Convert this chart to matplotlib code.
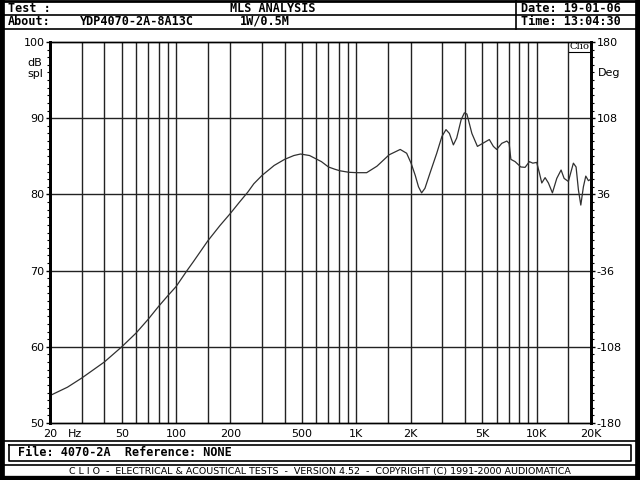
import matplotlib
matplotlib.use('Agg')
import matplotlib.pyplot as plt
from matplotlib.ticker import FixedLocator, NullFormatter, MultipleLocator

plt.rcParams['axes.unicode_minus'] = False

# frequency response (Hz, dB spl)
freq = [20, 25, 30, 40, 50, 60, 70, 80, 90, 100, 115, 125, 150, 175, 200, 225, 250,
        270, 300, 330, 350, 400, 450, 490, 550, 640, 700, 760, 810, 910, 1010, 1140,
        1300, 1520, 1750, 1900, 2010, 2120, 2210, 2300, 2400, 2560, 2790, 2980, 3140,
        3280, 3450, 3600, 3810, 3970, 4100, 4370, 4690, 5020, 5460, 5750, 6000, 6400,
        6830, 7030, 7190, 7590, 8160, 8620, 9110, 9510, 10000, 10350, 10670, 11130,
        11610, 12220, 12920, 13650, 14190, 14980, 15970, 16530, 17030, 17560, 18150,
        18710, 19350, 20000]
spl = [53.6, 54.7, 55.9, 58.0, 60.0, 61.8, 63.6, 65.3, 66.7, 67.9, 70.0, 71.2, 73.9,
       75.9, 77.5, 79.0, 80.3, 81.4, 82.5, 83.3, 83.8, 84.6, 85.1, 85.3, 85.1, 84.3,
       83.6, 83.3, 83.1, 82.9, 82.85, 82.85, 83.7, 85.2, 85.9, 85.4, 84.1, 82.5, 81.0,
       80.2, 80.8, 82.8, 85.4, 87.6, 88.5, 88.0, 86.5, 87.4, 89.8, 90.7, 90.55, 88.0,
       86.3, 86.7, 87.2, 86.3, 85.9, 86.7, 87.0, 86.7, 84.6, 84.3, 83.6, 83.55, 84.3,
       84.1, 84.2, 82.8, 81.5, 82.2, 81.5, 80.2, 82.1, 83.2, 82.1, 81.7, 84.1, 83.6,
       80.6, 78.6, 81.0, 82.4, 81.8, 82.0]

grid_freqs = [30, 40, 50, 60, 70, 80, 90, 100, 150, 200, 300, 400, 500, 600, 700,
              800, 900, 1000, 1500, 2000, 3000, 4000, 5000, 6000, 7000, 8000, 9000,
              10000, 15000]
x_ticks = [20, 50, 100, 200, 500, 1000, 2000, 5000, 10000, 20000]
x_labels = ['20', '50', '100', '200', '500', '1K', '2K', '5K', '10K', '20K']
db_ticks = [50, 60, 70, 80, 90, 100]
deg_ticks = [-180, -108, -36, 36, 108, 180]

W, H = 640, 480
fig = plt.figure(figsize=(6.4, 4.8), dpi=100)
fig.patch.set_facecolor('white')

# main plot axes, placed in pixels
L, R, T, B = 50, 591, 42, 423
ax = fig.add_axes([L / W, 1 - B / H, (R - L) / W, (B - T) / H])
ax.set_xscale('log')
ax.set_xlim(20, 20000)
ax.set_ylim(50, 100)

for f in grid_freqs:
    ax.axvline(f, color='#222222', lw=1.0, zorder=1)
for d in db_ticks[1:-1]:
    ax.axhline(d, color='#222222', lw=1.0, zorder=1)

ax.plot(freq, spl, color='#303030', lw=0.9, zorder=3)

ax.xaxis.set_major_locator(FixedLocator(x_ticks))
ax.set_xticklabels(x_labels)
ax.xaxis.set_minor_formatter(NullFormatter())
ax.tick_params(axis='x', which='both', length=0, pad=4, labelsize=8)
ax.text(27.5, -0.0145, 'Hz', transform=ax.get_xaxis_transform(), ha='center',
        va='top', fontsize=8)

ax.set_yticks(db_ticks)
ax.yaxis.set_minor_locator(MultipleLocator(1))
ax.tick_params(axis='y', which='major', length=3, width=1, pad=1, labelsize=8)
ax.tick_params(axis='y', which='minor', length=2, width=0.8)

ax2 = ax.twinx()
ax2.set_ylim(-180, 180)
ax2.set_yticks(deg_ticks)
ax2.yaxis.set_minor_locator(MultipleLocator(7.2))
ax2.tick_params(axis='y', which='major', length=3, width=1, pad=1, labelsize=8)
ax2.tick_params(axis='y', which='minor', length=2, width=0.8)

for a in (ax, ax2):
    for s in a.spines.values():
        s.set_linewidth(1.0)
    a.spines['left'].set_linewidth(2.0)
    a.spines['right'].set_linewidth(2.0)

# overlay in pixel coordinates for the frame and header/footer text
ov = fig.add_axes([0, 0, 1, 1], zorder=5)
ov.set_xlim(0, W)
ov.set_ylim(H, 0)
ov.axis('off')

k = dict(color='black', lw=1.2)
ov.plot([0, 0], [0, H], color='black', lw=7)
ov.plot([W, W], [0, H], color='black', lw=7)
ov.plot([0, W], [0.5, 0.5], color='black', lw=2)
ov.plot([0, W], [H, H], color='black', lw=6)
ov.plot([0, W], [14.5, 14.5], **k)
ov.plot([0, W], [28.5, 28.5], **k)
ov.plot([516, 516], [0, 28.5], **k)
ov.plot([0, W], [441, 441], **k)
ov.plot([9, 631, 631, 9, 9], [445, 445, 461, 461, 445], **k)
ov.plot([0, W], [464.5, 464.5], **k)

mono = dict(family='DejaVu Sans Mono', fontweight='bold', fontsize=8.5, va='center')
ov.text(8, 8, 'Test :', **mono)
ov.text(273, 8, 'MLS ANALYSIS', ha='center', **mono)
ov.text(521, 8, 'Date: 19-01-06', **mono)
ov.text(8, 21.5, 'About:', **mono)
ov.text(80, 21.5, 'YDP4070-2A-8A13C', **mono)
ov.text(240, 21.5, '1W/0.5M', **mono)
ov.text(521, 21.5, 'Time: 13:04:30', **mono)
ov.text(18, 453, 'File: 4070-2A  Reference: NONE', **mono)
ov.text(W / 2, 471.5, 'C L I O  -  ELECTRICAL & ACOUSTICAL TESTS  -  VERSION 4.52  -  '
        'COPYRIGHT (C) 1991-2000 AUDIOMATICA', ha='center', va='center',
        family='DejaVu Sans Condensed', fontsize=6.8)

ov.text(27, 63, 'dB', ha='left', va='center', fontsize=8)
ov.text(27, 74, 'spl', ha='left', va='center', fontsize=8)
ov.text(598, 73, 'Deg', ha='left', va='center', fontsize=8)

# "Clio" tag in the top-right corner of the plot
ov.text(579.5, 46.5, 'Clio', ha='center', va='center', family='DejaVu Serif', fontsize=7.2)
ov.plot([569, 591], [51.5, 51.5], color='black', lw=0.8)

fig.savefig('out.png', dpi=100)
